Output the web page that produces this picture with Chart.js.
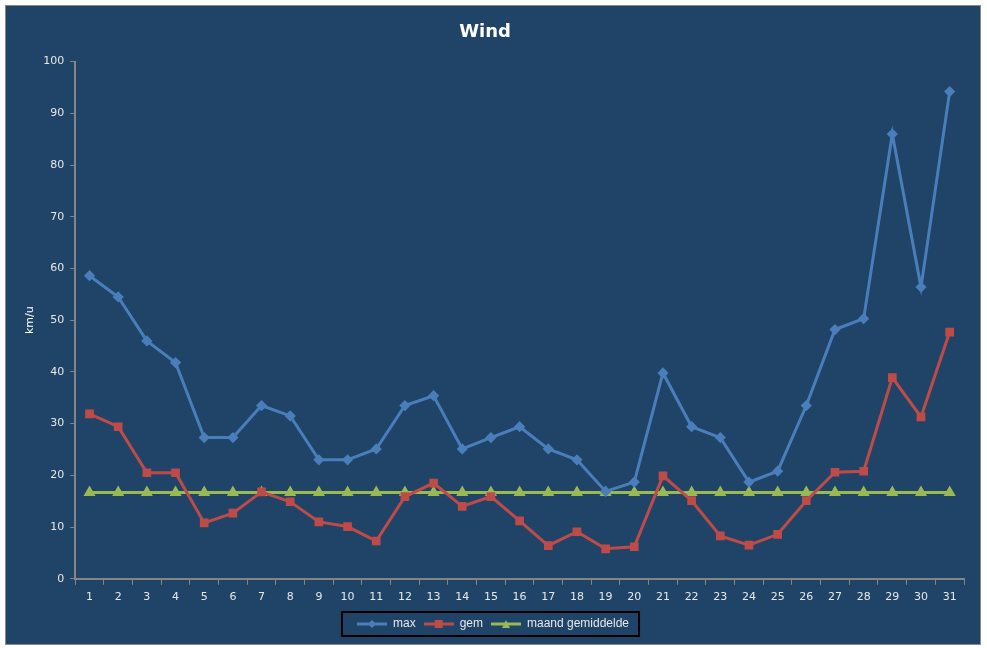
<!DOCTYPE html>
<html>
<head>
<meta charset="utf-8">
<script src="https://cdn.jsdelivr.net/npm/chart.js@4/dist/chart.umd.min.js"></script>
<style>
  html, body { margin: 0; padding: 0; background: #fff; }
  #frame {
    position: absolute; left: 5px; top: 5px;
    width: 974px; height: 638px;
    border: 1px solid #8a8a8a;
    background: #1f4468;
  }
  #wind { display: block; }
</style>
</head>
<body>
<div id="frame"><canvas id="wind" width="974" height="638"></canvas></div>
<script>
const days = ['1','2','3','4','5','6','7','8','9','10','11','12','13','14','15','16',
  '17','18','19','20','21','22','23','24','25','26','27','28','29','30','31'];

// max windsnelheid (km/u)
const maxWind = [58.6, 54.5, 46.0, 41.8, 27.3, 27.3, 33.5, 31.5, 23.0, 23.0, 25.1,
  33.5, 35.4, 25.1, 27.3, 29.4, 25.1, 23.0, 16.9, 18.7, 39.8, 29.4, 27.3, 18.7,
  20.8, 33.5, 48.2, 50.3, 86.0, 56.4, 94.2];

// gemiddelde windsnelheid (km/u)
const gemWind = [31.9, 29.4, 20.5, 20.5, 10.8, 12.7, 16.8, 14.9, 11.0, 10.1, 7.3,
  15.9, 18.5, 14.0, 15.9, 11.2, 6.4, 9.1, 5.8, 6.2, 19.9, 15.1, 8.3, 6.5,
  8.6, 15.1, 20.6, 20.8, 38.9, 31.3, 47.7];

// maandgemiddelde
const maandGem = [16.7, 16.7, 16.7, 16.7, 16.7, 16.7, 16.7, 16.7, 16.7, 16.7, 16.7,
  16.7, 16.7, 16.7, 16.7, 16.7, 16.7, 16.7, 16.7, 16.7, 16.7, 16.7, 16.7, 16.7,
  16.7, 16.7, 16.7, 16.7, 16.7, 16.7, 16.7];

const yTicks = [0, 10, 20, 30, 40, 50, 60, 70, 80, 90, 100];

const blue = '#4a7ebb', red = '#be4b48', green = '#98b954';
const axisGrey = '#868686';
const txt = '#e8e8e8';
const font = 'Tahoma, "DejaVu Sans", sans-serif';
const legendFont = '"Liberation Sans", Arial, sans-serif';
const legendShift = 8;

// legend symbol: line with marker in the middle
function legendIcon(color, shape) {
  const c = document.createElement('canvas');
  c.width = 30; c.height = 12;
  const g = c.getContext('2d');
  g.strokeStyle = color; g.fillStyle = color; g.lineWidth = 3;
  g.beginPath(); g.moveTo(0, 6); g.lineTo(30, 6); g.stroke();
  g.beginPath();
  if (shape === 'diamond') {
    g.moveTo(15, 2); g.lineTo(19, 6); g.lineTo(15, 10); g.lineTo(11, 6);
  } else if (shape === 'square') {
    g.rect(11, 2, 8, 8);
  } else {
    g.moveTo(15, 2); g.lineTo(19, 10); g.lineTo(11, 10);
  }
  g.closePath(); g.fill();
  return c;
}
const icons = [legendIcon(blue, 'diamond'), legendIcon(red, 'square'), legendIcon(green, 'triangle')];

// legend centred on the whole frame + black box round it
const legendBox = {
  id: 'legendBox',
  afterLayout(chart) {
    const lg = chart.legend;
    lg.left += legendShift; lg.right += legendShift;
  },
  afterDraw(chart) {
    const boxes = chart.legend.legendHitBoxes;
    if (!boxes || !boxes.length) return;
    let l = Infinity, r = -Infinity, t = Infinity, b = -Infinity;
    boxes.forEach(h => {
      l = Math.min(l, h.left); r = Math.max(r, h.left + h.width);
      t = Math.min(t, h.top); b = Math.max(b, h.top + h.height);
    });
    const ctx = chart.ctx;
    ctx.save();
    ctx.strokeStyle = '#000'; ctx.lineWidth = 2;
    ctx.strokeRect(l - 15, t - 6, r - l + 25, b - t + 12);
    ctx.restore();
  }
};

new Chart(document.getElementById('wind').getContext('2d'), {
  type: 'line',
  data: {
    labels: days,
    datasets: [
      { label: 'max', data: maxWind, borderColor: blue, backgroundColor: blue,
        borderWidth: 3, pointStyle: 'rectRot', pointRadius: 3.5, tension: 0 },
      { label: 'gem', data: gemWind, borderColor: red, backgroundColor: red,
        borderWidth: 3, pointStyle: 'rect', pointRadius: 4, tension: 0 },
      { label: 'maand gemiddelde', data: maandGem, borderColor: green, backgroundColor: green,
        borderWidth: 3, pointStyle: 'triangle', pointRadius: 4, tension: 0 }
    ]
  },
  options: {
    responsive: false,
    animation: false,
    layout: { padding: { left: 0, right: 16, top: 0, bottom: 4 } },
    plugins: {
      title: {
        display: true, text: 'Wind', color: '#ffffff',
        font: { family: font, size: 18, weight: 'bold' },
        padding: { top: 16, bottom: 18 }
      },
      legend: {
        position: 'bottom',
        labels: {
          color: txt, font: { family: legendFont, size: 12 },
          usePointStyle: true, pointStyleWidth: 30, boxHeight: 12,
          padding: 8,
          generateLabels(chart) {
            return chart.data.datasets.map((ds, i) => ({
              text: ds.label, fontColor: txt, pointStyle: icons[i],
              datasetIndex: i, lineWidth: 0, strokeStyle: 'transparent', fillStyle: 'transparent'
            }));
          }
        }
      },
      tooltip: { enabled: false }
    },
    scales: {
      x: {
        offset: true,
        grid: { offset: true, drawOnChartArea: false, drawTicks: true, tickLength: 6, color: axisGrey },
        border: { color: axisGrey, width: 2 },
        ticks: { color: txt, font: { family: font, size: 11 }, padding: 6, maxRotation: 0, autoSkip: false }
      },
      y: {
        min: 0, max: 100,
        afterBuildTicks(scale) { scale.ticks = yTicks.map(v => ({ value: v })); },
        grid: { drawOnChartArea: false, drawTicks: true, tickLength: 5, color: axisGrey },
        border: { color: axisGrey, width: 2 },
        ticks: { color: txt, font: { family: font, size: 11 }, padding: 6 },
        title: { display: true, text: 'km/u', color: '#ffffff', font: { family: font, size: 11 }, padding: { top: 18, bottom: 0 } }
      }
    }
  },
  plugins: [legendBox]
});
</script>
</body>
</html>
